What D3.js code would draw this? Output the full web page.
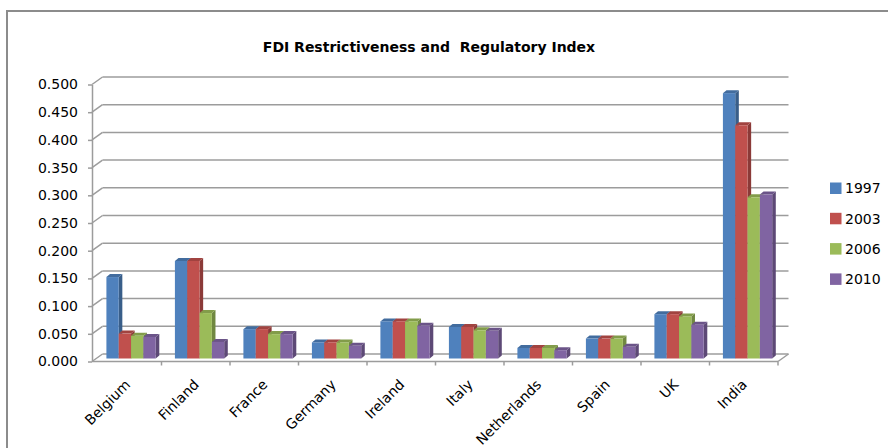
<!DOCTYPE html>
<meta charset="utf-8">
<style>
body { margin: 0; background: #fff; }
svg { display: block; font-family: "DejaVu Sans", sans-serif; }
.grid line { stroke: #9c9c9c; stroke-width: 1.5; }
.axis path, .axis line { stroke: #9c9c9c; stroke-width: 1.5; }
.axis text { fill: #000; font-size: 14px; font-family: "DejaVu Sans", sans-serif; }
.legend text { font-size: 14px; fill: #000; }
.title { font-family: "DejaVu Sans", sans-serif; font-weight: bold; font-size: 14px; }
</style>
<svg width="888" height="448"></svg>
<script src="https://d3js.org/d3.v7.min.js"></script>
<script>

var categories = ["Belgium", "Finland", "France", "Germany", "Ireland", "Italy", "Netherlands", "Spain", "UK", "India"];
var years = ["1997", "2003", "2006", "2010"];
var colors = ["#4f81bd", "#c0504d", "#9bbb59", "#8064a2"];

var v1997 = [0.147, 0.176, 0.053, 0.029, 0.067, 0.057, 0.019, 0.036, 0.080, 0.479];
var v2003 = [0.045, 0.176, 0.053, 0.029, 0.067, 0.057, 0.019, 0.036, 0.080, 0.421];
var v2006 = [0.041, 0.082, 0.044, 0.029, 0.067, 0.051, 0.019, 0.036, 0.076, 0.291];
var v2010 = [0.039, 0.030, 0.044, 0.023, 0.059, 0.050, 0.015, 0.021, 0.061, 0.296];

var yTicks = [0, 0.05, 0.1, 0.15, 0.2, 0.25, 0.3, 0.35, 0.4, 0.45, 0.5];

var series = [v1997, v2003, v2006, v2010];

var svg = d3.select("svg");

// chart area border (runs off the right and bottom of the picture)
svg.append("rect")
    .attr("x", 7).attr("y", 11)
    .attr("width", 950).attr("height", 500)
    .attr("fill", "none")
    .attr("stroke", "#8c8c8c")
    .attr("stroke-width", 2);

svg.append("text")
    .attr("class", "title")
    .attr("x", 429).attr("y", 51.5)
    .attr("text-anchor", "middle")
    .text("FDI Restrictiveness and  Regulatory Index")
    .style("white-space", "pre");

// front plane scales
var x = d3.scaleBand().domain(categories).range([93, 778]);
var y = d3.scaleLinear().domain([0, 0.5]).range([361.5, 84.5]);
var xs = d3.scaleBand().domain(years).range([0, x.bandwidth()]).paddingOuter(0.78);

// depth offsets: back wall, bar plane, bar thickness
var back = [10.5, -7.5], mid = [3.8, -3], depth = [3.6, -3];

// back wall gridlines + side wall diagonals
var grid = svg.append("g").attr("class", "grid");
grid.selectAll(".h").data(yTicks).enter().append("line")
    .attr("x1", x.range()[0] - 1 + back[0]).attr("x2", x.range()[1] + back[0])
    .attr("y1", function(d) { return y(d) + back[1]; })
    .attr("y2", function(d) { return y(d) + back[1]; });
grid.selectAll(".d").data(yTicks).enter().append("line")
    .attr("x1", x.range()[0] - 1).attr("x2", x.range()[0] - 1 + back[0])
    .attr("y1", function(d) { return y(d); })
    .attr("y2", function(d) { return y(d) + back[1]; });
// floor
grid.append("line")
    .attr("x1", x.range()[0] - 1).attr("x2", x.range()[1])
    .attr("y1", y(0)).attr("y2", y(0));
grid.append("line")
    .attr("x1", x.range()[1]).attr("x2", x.range()[1] + back[0])
    .attr("y1", y(0)).attr("y2", y(0) + back[1]);
grid.selectAll(".t").data(categories).enter().append("line")
    .attr("x1", function(d) { return x(d) + x.bandwidth(); })
    .attr("x2", function(d) { return x(d) + x.bandwidth(); })
    .attr("y1", y(0)).attr("y2", y(0) + 4);

// y axis
svg.append("g")
    .attr("class", "axis")
    .attr("transform", "translate(" + (x.range()[0] - 1) + ",0)")
    .call(d3.axisLeft(y).tickValues(yTicks).tickFormat(d3.format(".3f"))
      .tickSize(4).tickSizeOuter(0).tickPadding(10));

// x labels
var xa = svg.append("g")
    .attr("class", "axis")
    .attr("transform", "translate(0," + y(0) + ")")
    .call(d3.axisBottom(x).tickSize(0).tickSizeOuter(0));
xa.select(".domain").remove();
xa.selectAll("text")
    .attr("text-anchor", "end")
    .attr("dy", null)
    .attr("y", 0)
    .attr("transform", "translate(4,24) rotate(-45)");

// bars
function pts(a) { return a.map(function(p) { return p.join(","); }).join(" "); }

categories.forEach(function(c, i) {
  years.forEach(function(yr, j) {
    var v = series[j][i];
    var x0 = x(c) + xs(yr) + mid[0], w = xs.bandwidth();
    var yt = y(v) + mid[1], yb = y(0) + mid[1];
    var col = d3.color(colors[j]);
    var g = svg.append("g");
    g.append("polygon")
        .attr("points", pts([[x0 + w, yt], [x0 + w + depth[0], yt + depth[1]], [x0 + w + depth[0], yb + depth[1]], [x0 + w, yb]]))
        .attr("fill", col.darker(0.9));
    g.append("polygon")
        .attr("points", pts([[x0, yt], [x0 + w, yt], [x0 + w + depth[0], yt + depth[1]], [x0 + depth[0], yt + depth[1]]]))
        .attr("fill", col.darker(0.5));
    g.append("rect")
        .attr("x", x0).attr("y", yt)
        .attr("width", w).attr("height", yb - yt)
        .attr("fill", colors[j]);
  });
});

// legend
var lg = svg.append("g").attr("class", "legend");
years.forEach(function(yr, j) {
  var cy = 188.3 + j * 30.3;
  lg.append("rect")
      .attr("x", 830).attr("y", cy - 5.8)
      .attr("width", 11.5).attr("height", 11.5)
      .attr("fill", colors[j]);
  lg.append("text")
      .attr("x", 845).attr("y", cy + 5)
      .text(yr);
});

</script>
